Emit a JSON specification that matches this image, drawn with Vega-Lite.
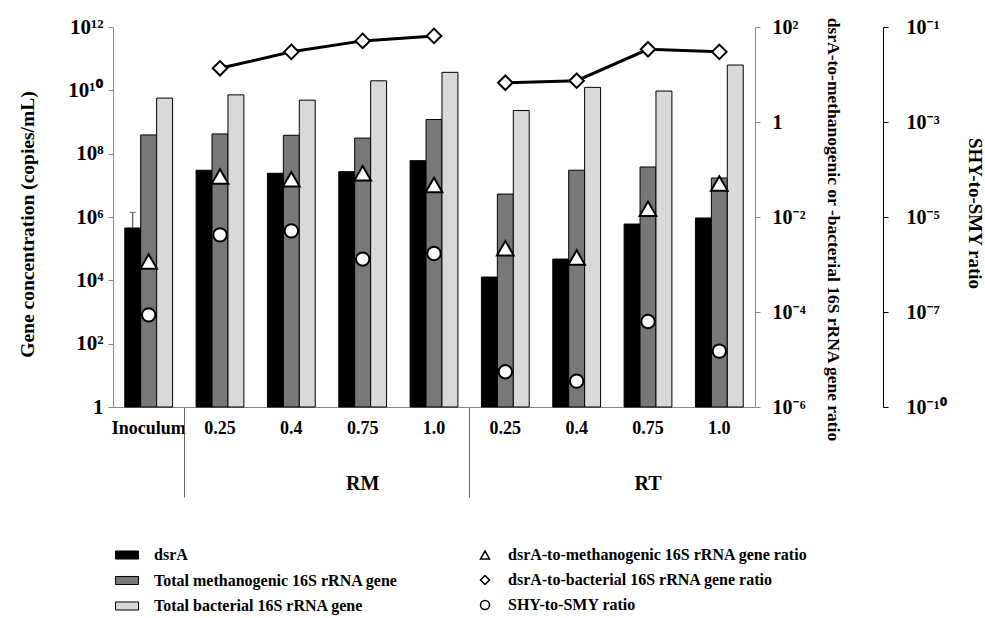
{
  "$schema": "https://vega.github.io/schema/vega-lite/v6.json",
  "width": 642,
  "height": 380,
  "autosize": {"type": "none"},
  "padding": {"left": 113, "top": 27, "right": 230, "bottom": 211},
  "background": "white",
  "config": {
    "font": "Liberation Serif",
    "view": {"stroke": null},
    "axis": {"labelFont": "Liberation Serif, Noto Sans", "titleFont": "Liberation Serif", "labelFontWeight": "bold", "titleFontWeight": "bold", "labelColor": "#000", "titleColor": "#000", "grid": false, "labelOverlap": false, "labelBound": false},
    "legend": {"labelFont": "Liberation Serif", "labelFontWeight": "bold", "labelColor": "#000", "labelLimit": 600, "padding": 0}
  },
  "datasets": {
    "bars": [
      {"key": "Inoculum", "trt": "Inoculum", "series": "dsrA", "value": 450000},
      {"key": "Inoculum", "trt": "Inoculum", "series": "Total methanogenic 16S rRNA gene", "value": 390000000},
      {"key": "Inoculum", "trt": "Inoculum", "series": "Total bacterial 16S rRNA gene", "value": 5700000000},
      {"key": "RM 0.25", "trt": "RM", "series": "dsrA", "value": 30000000},
      {"key": "RM 0.25", "trt": "RM", "series": "Total methanogenic 16S rRNA gene", "value": 420000000},
      {"key": "RM 0.25", "trt": "RM", "series": "Total bacterial 16S rRNA gene", "value": 7200000000},
      {"key": "RM 0.4", "trt": "RM", "series": "dsrA", "value": 24000000},
      {"key": "RM 0.4", "trt": "RM", "series": "Total methanogenic 16S rRNA gene", "value": 380000000},
      {"key": "RM 0.4", "trt": "RM", "series": "Total bacterial 16S rRNA gene", "value": 4900000000},
      {"key": "RM 0.75", "trt": "RM", "series": "dsrA", "value": 27000000},
      {"key": "RM 0.75", "trt": "RM", "series": "Total methanogenic 16S rRNA gene", "value": 310000000},
      {"key": "RM 0.75", "trt": "RM", "series": "Total bacterial 16S rRNA gene", "value": 20000000000},
      {"key": "RM 1.0", "trt": "RM", "series": "dsrA", "value": 60000000},
      {"key": "RM 1.0", "trt": "RM", "series": "Total methanogenic 16S rRNA gene", "value": 1200000000},
      {"key": "RM 1.0", "trt": "RM", "series": "Total bacterial 16S rRNA gene", "value": 37000000000},
      {"key": "RT 0.25", "trt": "RT", "series": "dsrA", "value": 12700},
      {"key": "RT 0.25", "trt": "RT", "series": "Total methanogenic 16S rRNA gene", "value": 5300000},
      {"key": "RT 0.25", "trt": "RT", "series": "Total bacterial 16S rRNA gene", "value": 2300000000},
      {"key": "RT 0.4", "trt": "RT", "series": "dsrA", "value": 47000},
      {"key": "RT 0.4", "trt": "RT", "series": "Total methanogenic 16S rRNA gene", "value": 30000000},
      {"key": "RT 0.4", "trt": "RT", "series": "Total bacterial 16S rRNA gene", "value": 12400000000},
      {"key": "RT 0.75", "trt": "RT", "series": "dsrA", "value": 600000},
      {"key": "RT 0.75", "trt": "RT", "series": "Total methanogenic 16S rRNA gene", "value": 38000000},
      {"key": "RT 0.75", "trt": "RT", "series": "Total bacterial 16S rRNA gene", "value": 9500000000},
      {"key": "RT 1.0", "trt": "RT", "series": "dsrA", "value": 930000},
      {"key": "RT 1.0", "trt": "RT", "series": "Total methanogenic 16S rRNA gene", "value": 17000000},
      {"key": "RT 1.0", "trt": "RT", "series": "Total bacterial 16S rRNA gene", "value": 63000000000}
    ],
    "errs": [
      {"key": "Inoculum", "series": "dsrA", "value": 450000, "hi": 1400000}
    ],
    "ratios": [
      {"key": "Inoculum", "trt": "Inoculum", "ratio": "dsrA-to-methanogenic 16S rRNA gene ratio", "value": 0.00115},
      {"key": "RM 0.25", "trt": "RM", "ratio": "dsrA-to-methanogenic 16S rRNA gene ratio", "value": 0.071},
      {"key": "RM 0.4", "trt": "RM", "ratio": "dsrA-to-methanogenic 16S rRNA gene ratio", "value": 0.062},
      {"key": "RM 0.75", "trt": "RM", "ratio": "dsrA-to-methanogenic 16S rRNA gene ratio", "value": 0.083},
      {"key": "RM 1.0", "trt": "RM", "ratio": "dsrA-to-methanogenic 16S rRNA gene ratio", "value": 0.047},
      {"key": "RT 0.25", "trt": "RT", "ratio": "dsrA-to-methanogenic 16S rRNA gene ratio", "value": 0.0022},
      {"key": "RT 0.4", "trt": "RT", "ratio": "dsrA-to-methanogenic 16S rRNA gene ratio", "value": 0.0014},
      {"key": "RT 0.75", "trt": "RT", "ratio": "dsrA-to-methanogenic 16S rRNA gene ratio", "value": 0.015},
      {"key": "RT 1.0", "trt": "RT", "ratio": "dsrA-to-methanogenic 16S rRNA gene ratio", "value": 0.051},
      {"key": "RM 0.25", "trt": "RM", "ratio": "dsrA-to-bacterial 16S rRNA gene ratio", "value": 13.5},
      {"key": "RM 0.4", "trt": "RM", "ratio": "dsrA-to-bacterial 16S rRNA gene ratio", "value": 30},
      {"key": "RM 0.75", "trt": "RM", "ratio": "dsrA-to-bacterial 16S rRNA gene ratio", "value": 51},
      {"key": "RM 1.0", "trt": "RM", "ratio": "dsrA-to-bacterial 16S rRNA gene ratio", "value": 65},
      {"key": "RT 0.25", "trt": "RT", "ratio": "dsrA-to-bacterial 16S rRNA gene ratio", "value": 6.7},
      {"key": "RT 0.4", "trt": "RT", "ratio": "dsrA-to-bacterial 16S rRNA gene ratio", "value": 7.4},
      {"key": "RT 0.75", "trt": "RT", "ratio": "dsrA-to-bacterial 16S rRNA gene ratio", "value": 34},
      {"key": "RT 1.0", "trt": "RT", "ratio": "dsrA-to-bacterial 16S rRNA gene ratio", "value": 30},
      {"key": "Inoculum", "trt": "Inoculum", "ratio": "SHY-to-SMY ratio", "value": 8.7e-8},
      {"key": "RM 0.25", "trt": "RM", "ratio": "SHY-to-SMY ratio", "value": 4.2e-6},
      {"key": "RM 0.4", "trt": "RM", "ratio": "SHY-to-SMY ratio", "value": 5.1e-6},
      {"key": "RM 0.75", "trt": "RM", "ratio": "SHY-to-SMY ratio", "value": 1.3e-6},
      {"key": "RM 1.0", "trt": "RM", "ratio": "SHY-to-SMY ratio", "value": 1.7e-6},
      {"key": "RT 0.25", "trt": "RT", "ratio": "SHY-to-SMY ratio", "value": 5.5e-9},
      {"key": "RT 0.4", "trt": "RT", "ratio": "SHY-to-SMY ratio", "value": 3.5e-9},
      {"key": "RT 0.75", "trt": "RT", "ratio": "SHY-to-SMY ratio", "value": 6.3e-8},
      {"key": "RT 1.0", "trt": "RT", "ratio": "SHY-to-SMY ratio", "value": 1.5e-8}
    ]
  },
  "layer": [
    {
      "encoding": {
        "x": {"field": "key", "type": "nominal", "sort": null,
          "scale": {"domain": ["Inoculum", "RM 0.25", "RM 0.4", "RM 0.75", "RM 1.0", "RT 0.25", "RT 0.4", "RT 0.75", "RT 1.0"], "paddingInner": 0.33, "paddingOuter": 0.165},
          "axis": {"orient": "bottom", "title": null, "labelAngle": 0, "ticks": false, "domain": true, "domainColor": "#888", "labelFontSize": 18, "labelPadding": 12, "labelExpr": "replace(replace(datum.label, 'RM ', ''), 'RT ', '')"}},
        "xOffset": {"field": "series", "type": "nominal", "sort": null,
          "scale": {"domain": ["dsrA", "Total methanogenic 16S rRNA gene", "Total bacterial 16S rRNA gene"], "paddingInner": 0, "paddingOuter": 0}}
      },
      "layer": [
        {
          "data": {"name": "bars"},
          "mark": {"type": "bar", "stroke": "black", "strokeWidth": 1},
          "encoding": {
            "y": {"field": "value", "type": "quantitative",
              "scale": {"type": "log", "domain": [1, 1000000000000], "nice": false, "zero": false},
              "axis": {"orient": "left", "values": [1, 100, 10000, 1000000, 100000000, 10000000000, 1000000000000], "labelExpr": "round(log(datum.value)/LN10) == 0 ? '1' : round(log(datum.value)/LN10) == 2 ? '10²' : round(log(datum.value)/LN10) == 4 ? '10⁴' : round(log(datum.value)/LN10) == 6 ? '10⁶' : round(log(datum.value)/LN10) == 8 ? '10⁸' : round(log(datum.value)/LN10) == 10 ? '10¹⁰' : '10¹²'", "labelFontSize": 21, "labelPadding": 5, "tickSize": 5, "tickColor": "#888", "domainColor": "#888", "title": "Gene concentration (copies/mL)", "titleFontSize": 19.5, "titlePadding": 30, "titleY": 197}},
            "y2": {"datum": 1},
            "fill": {"field": "series", "type": "nominal", "sort": null,
              "scale": {"domain": ["dsrA", "Total methanogenic 16S rRNA gene", "Total bacterial 16S rRNA gene"], "range": ["#000000", "#787878", "#d9d9d9"]},
              "legend": {"orient": "none", "legendX": 2, "legendY": 516, "title": null, "symbolType": "M-1,-0.35H1V0.35H-1Z", "symbolSize": 529, "symbolStrokeColor": "black", "symbolStrokeWidth": 1, "labelFontSize": 16, "labelOffset": 15, "rowPadding": 5.5}}
          }
        },
        {
          "data": {"name": "errs"},
          "mark": {"type": "rule", "color": "#333", "strokeWidth": 1},
          "encoding": {
            "y": {"field": "value", "type": "quantitative",
              "scale": {"type": "log", "domain": [1, 1000000000000], "nice": false, "zero": false},
              "axis": {"orient": "left", "values": [1, 100, 10000, 1000000, 100000000, 10000000000, 1000000000000], "labelExpr": "round(log(datum.value)/LN10) == 0 ? '1' : round(log(datum.value)/LN10) == 2 ? '10²' : round(log(datum.value)/LN10) == 4 ? '10⁴' : round(log(datum.value)/LN10) == 6 ? '10⁶' : round(log(datum.value)/LN10) == 8 ? '10⁸' : round(log(datum.value)/LN10) == 10 ? '10¹⁰' : '10¹²'", "labelFontSize": 21, "labelPadding": 5, "tickSize": 5, "tickColor": "#888", "domainColor": "#888", "title": "Gene concentration (copies/mL)", "titleFontSize": 19.5, "titlePadding": 30, "titleY": 197}},
            "y2": {"field": "hi"}
          }
        },
        {
          "data": {"name": "errs"},
          "mark": {"type": "tick", "color": "#333", "thickness": 1, "size": 6},
          "encoding": {
            "y": {"field": "hi", "type": "quantitative",
              "scale": {"type": "log", "domain": [1, 1000000000000], "nice": false, "zero": false},
              "axis": {"orient": "left", "values": [1, 100, 10000, 1000000, 100000000, 10000000000, 1000000000000], "labelExpr": "round(log(datum.value)/LN10) == 0 ? '1' : round(log(datum.value)/LN10) == 2 ? '10²' : round(log(datum.value)/LN10) == 4 ? '10⁴' : round(log(datum.value)/LN10) == 6 ? '10⁶' : round(log(datum.value)/LN10) == 8 ? '10⁸' : round(log(datum.value)/LN10) == 10 ? '10¹⁰' : '10¹²'", "labelFontSize": 21, "labelPadding": 5, "tickSize": 5, "tickColor": "#888", "domainColor": "#888", "title": "Gene concentration (copies/mL)", "titleFontSize": 19.5, "titlePadding": 30, "titleY": 197}}
          }
        }
      ]
    },
    {
      "data": {"name": "ratios"},
      "transform": [{"filter": "datum.ratio != 'SHY-to-SMY ratio'"}],
      "encoding": {
        "x": {"field": "key", "type": "nominal", "sort": null,
          "scale": {"domain": ["Inoculum", "RM 0.25", "RM 0.4", "RM 0.75", "RM 1.0", "RT 0.25", "RT 0.4", "RT 0.75", "RT 1.0"], "paddingInner": 0.33, "paddingOuter": 0.165},
          "axis": {"orient": "bottom", "title": null, "values": ["RM 0.25", "RT 0.25"], "bandPosition": -0.25, "ticks": true, "tickSize": 90, "tickColor": "#666", "tickWidth": 1, "labels": false, "domain": false}},
        "y": {"field": "value", "type": "quantitative",
          "scale": {"type": "log", "domain": [0.000001, 100], "nice": false, "zero": false},
          "axis": {"orient": "right", "values": [0.000001, 0.0001, 0.01, 1, 100], "labelExpr": "round(log(datum.value)/LN10) == -6 ? '10⁻⁶' : round(log(datum.value)/LN10) == -4 ? '10⁻⁴' : round(log(datum.value)/LN10) == -2 ? '10⁻²' : round(log(datum.value)/LN10) == 0 ? '1' : '10²'", "labelFontSize": 20, "labelPadding": 12, "tickSize": 5, "tickColor": "#888", "domainColor": "#888", "title": "dsrA-to-methanogenic or -bacterial 16S rRNA gene ratio", "titleFontSize": 17.5, "titlePadding": 18, "titleY": 202}}
      },
      "layer": [
        {
          "transform": [{"filter": "datum.ratio == 'dsrA-to-bacterial 16S rRNA gene ratio'"}],
          "mark": {"type": "line", "color": "black", "strokeWidth": 3},
          "encoding": {"detail": {"field": "trt"}}
        },
        {
          "transform": [{"filter": "datum.ratio == 'dsrA-to-bacterial 16S rRNA gene ratio'"}],
          "mark": {"type": "point", "filled": true, "fill": "white", "stroke": "black", "strokeWidth": 2, "opacity": 1, "size": 210},
          "encoding": {
            "shape": {"field": "ratio", "type": "nominal", "sort": null,
              "scale": {"domain": ["dsrA-to-methanogenic 16S rRNA gene ratio", "dsrA-to-bacterial 16S rRNA gene ratio", "SHY-to-SMY ratio"], "range": ["triangle-up", "diamond", "circle"]},
              "legend": {"orient": "none", "legendX": 364, "legendY": 520, "title": null, "symbolSize": 81, "labelFontSize": 16, "labelOffset": 15, "rowPadding": 9}}
          }
        },
        {
          "transform": [{"filter": "datum.ratio == 'dsrA-to-methanogenic 16S rRNA gene ratio'"}],
          "mark": {"type": "point", "filled": true, "fill": "white", "stroke": "black", "strokeWidth": 2, "opacity": 1, "size": 280},
          "encoding": {
            "shape": {"field": "ratio", "type": "nominal", "sort": null,
              "scale": {"domain": ["dsrA-to-methanogenic 16S rRNA gene ratio", "dsrA-to-bacterial 16S rRNA gene ratio", "SHY-to-SMY ratio"], "range": ["triangle-up", "diamond", "circle"]},
              "legend": {"orient": "none", "legendX": 364, "legendY": 520, "title": null, "symbolSize": 81, "labelFontSize": 16, "labelOffset": 15, "rowPadding": 9}}
          }
        }
      ]
    },
    {
      "data": {"name": "ratios"},
      "transform": [{"filter": "datum.ratio == 'SHY-to-SMY ratio'"}],
      "mark": {"type": "point", "filled": true, "fill": "white", "stroke": "black", "strokeWidth": 2, "opacity": 1, "size": 180},
      "encoding": {
        "x": {"field": "key", "type": "nominal", "sort": null,
          "scale": {"domain": ["Inoculum", "RM 0.25", "RM 0.4", "RM 0.75", "RM 1.0", "RT 0.25", "RT 0.4", "RT 0.75", "RT 1.0"], "paddingInner": 0.33, "paddingOuter": 0.165},
          "axis": {"orient": "bottom", "title": null, "values": ["RM 0.75", "RT 0.75"], "bandPosition": -0.29, "ticks": false, "domain": false, "labelAngle": 0, "labelFontSize": 20, "labelPadding": 66, "labelExpr": "substring(datum.label, 0, 2)"}},
        "y": {"field": "value", "type": "quantitative",
          "scale": {"type": "log", "domain": [1e-9, 0.1], "nice": false, "zero": false},
          "axis": {"orient": "right", "offset": 128, "values": [1e-9, 1e-7, 0.00001, 0.001, 0.1], "labelExpr": "round(log(datum.value)/LN10) == -9 ? '10⁻¹⁰' : round(log(datum.value)/LN10) == -7 ? '10⁻⁷' : round(log(datum.value)/LN10) == -5 ? '10⁻⁵' : round(log(datum.value)/LN10) == -3 ? '10⁻³' : '10⁻¹'", "labelFontSize": 20, "labelPadding": 18, "tickSize": 5, "tickColor": "#000", "domainColor": "#000", "title": "SHY-to-SMY ratio", "titleFontSize": 19, "titlePadding": 18, "titleY": 186}},
        "shape": {"field": "ratio", "type": "nominal", "sort": null,
          "scale": {"domain": ["dsrA-to-methanogenic 16S rRNA gene ratio", "dsrA-to-bacterial 16S rRNA gene ratio", "SHY-to-SMY ratio"], "range": ["triangle-up", "diamond", "circle"]},
          "legend": {"orient": "none", "legendX": 364, "legendY": 520, "title": null, "symbolSize": 81, "labelFontSize": 16, "labelOffset": 15, "rowPadding": 9}}
      }
    }
  ],
  "resolve": {"scale": {"y": "independent"}, "axis": {"x": "independent", "y": "independent"}}
}
